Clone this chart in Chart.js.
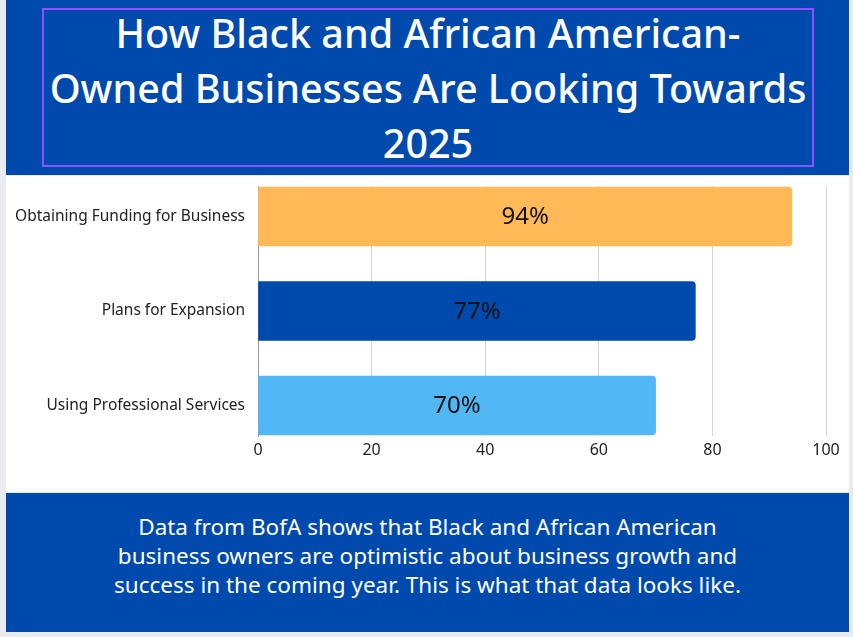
<!DOCTYPE html>
<html>
<head>
<meta charset="utf-8">
<script src="https://cdn.jsdelivr.net/npm/chart.js@4.4.1/dist/chart.umd.min.js"></script>
<style>
  html, body { margin:0; padding:0; }
  body { width:853px; height:637px; background:#e9ebf1; position:relative; overflow:hidden; font-family:"Noto Sans", sans-serif; }
  #top { position:absolute; left:6px; top:0; width:843px; height:175px; background:#004aad; }
  #box { position:absolute; left:36px; top:8px; width:768px; height:155px; border:2px solid #8c52ff; }
  #title { position:absolute; left:0; top:-4px; width:100%; text-align:center; color:#fff; font-weight:500; font-size:39.5px; line-height:55px; white-space:nowrap; }
  #mid { position:absolute; left:6px; top:176px; width:843px; height:316px; background:#fff; }
  #bottom { position:absolute; left:6px; top:493px; width:843px; height:139px; background:#004aad; }
  #desc { position:absolute; left:0; top:19px; width:100%; text-align:center; color:#fff; font-size:22.5px; line-height:29px; white-space:nowrap; }
</style>
</head>
<body>
<div id="top"><div id="box"><div id="title">How Black and African American-<br>Owned Businesses Are Looking Towards<br>2025</div></div></div>
<div id="mid"><canvas id="c" width="843" height="316"></canvas></div>
<div id="bottom"><div id="desc">Data from BofA shows that Black and African American<br>business owners are optimistic about business growth and<br>success in the coming year. This is what that data looks like.</div></div>
<script>
const categories = ["Obtaining Funding for Business", "Plans for Expansion", "Using Professional Services"];
const values = [94, 77, 70];
const barColors = ["#ffba57", "#004aad", "#52b8f5"];
const xTicks = [0, 20, 40, 60, 80, 100];

const Y_MIN = -0.3228, Y_MAX = 2.3228;

const valueLabels = {
  id: 'valueLabels',
  afterDatasetsDraw(chart) {
    const ctx = chart.ctx;
    const meta = chart.getDatasetMeta(0);
    ctx.save();
    ctx.font = '24px "Noto Sans", sans-serif';
    ctx.fillStyle = '#111';
    ctx.textAlign = 'center';
    ctx.textBaseline = 'middle';
    meta.data.forEach((bar, i) => {
      ctx.fillText(values[i] + '%', (bar.x + bar.base) / 2, bar.y + 1);
    });
    ctx.restore();
  }
};

new Chart(document.getElementById('c'), {
  type: 'bar',
  data: {
    datasets: [{
      data: values.map((v, i) => ({ x: v, y: i })),
      backgroundColor: barColors,
      borderRadius: 4,
      borderSkipped: 'start',
      barThickness: 59
    }]
  },
  options: {
    indexAxis: 'y',
    responsive: false,
    animation: false,
    layout: { padding: { top: 10, right: 23, left: 0, bottom: 0 } },
    plugins: { legend: { display: false }, tooltip: { enabled: false } },
    scales: {
      x: {
        type: 'linear',
        min: 0, max: 100,
        afterFit(scale) { scale.height = 56; },
        afterBuildTicks(scale) { scale.ticks = xTicks.map(v => ({ value: v })); },
        ticks: { font: { size: 16, family: '"Noto Sans", sans-serif' }, color: '#222', padding: 5 },
        grid: { color: '#d6d6d6', lineWidth: 1, drawTicks: false },
        border: { display: false }
      },
      y: {
        type: 'linear',
        reverse: true,
        offset: false,
        bounds: 'data',
        min: Y_MIN, max: Y_MAX,
        afterDataLimits(scale) { scale.min = Y_MIN; scale.max = Y_MAX; },
        afterBuildTicks(scale) {
          scale.ticks = categories.map((c, i) => ({ value: i }));
          scale.min = Y_MIN; scale.max = Y_MAX;
        },
        afterFit(scale) { scale.width = 252; scale.paddingTop = 0; scale.paddingBottom = 0; },
        ticks: {
          font: { size: 15.5, family: '"Noto Sans", sans-serif' }, color: '#222', padding: 13,
          callback: (v) => categories[v]
        },
        grid: { display: false, drawTicks: false, offset: false },
        border: { display: true, color: '#9a9a9a', width: 1 }
      }
    }
  },
  plugins: [valueLabels]
});
</script>
</body>
</html>
